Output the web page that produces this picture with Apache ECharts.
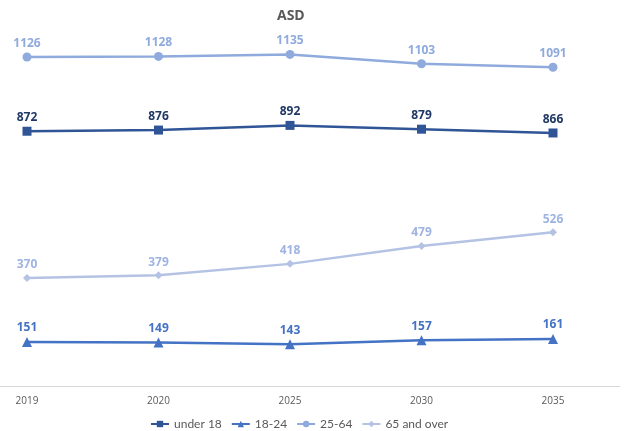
<!DOCTYPE html>
<html><head><meta charset="utf-8">
<script src="https://cdn.jsdelivr.net/npm/echarts@6/dist/echarts.min.js"></script>
<style>html,body{margin:0;padding:0;background:#fff}#c{width:624px;height:431px}</style>
</head><body><div id="c"></div>
<script>
const categories = ['2019','2020','2025','2030','2035'];
const under18 = [872, 876, 892, 879, 866];
const age18to24 = [151, 149, 143, 157, 161];
const age25to64 = [1126, 1128, 1135, 1103, 1091];
const age65plus = [370, 379, 418, 479, 526];
const seriesNames = ['under 18','18-24','25-64','65 and over'];

const chart = echarts.init(document.getElementById('c'), null, {renderer:'canvas'});
function mk(name, data, color, labelColor, symbol, size){
  return {
    name, type:'line', data, symbol, symbolSize:size, xAxisIndex:0, yAxisIndex:0,
    lineStyle:{color, width:2.5}, itemStyle:{color},
    label:{show:true, position:'top', distance:3, color:labelColor, fontSize:12, fontWeight:'bold', fontFamily:'Open Sans'},
    emphasis:{disabled:true}
  };
}
chart.setOption({
  animation:false,
  title:{text:'ASD', left:272, top:4, textStyle:{color:'#595959', fontSize:14, fontWeight:'bold', fontFamily:'Open Sans'}},
  legend:{top:413, left:145, itemGap:9, itemWidth:18, itemHeight:8,
    textStyle:{color:'#595959', fontSize:12, fontFamily:'Lato'},
    data:seriesNames},
  grid:[
    {left:27, right:71, top:35.4, bottom:45},
    {left:0, right:4, top:35.4, bottom:45}
  ],
  xAxis:[
    {type:'category', gridIndex:0, data:categories, boundaryGap:false,
     axisLine:{show:false}, axisTick:{show:false},
     axisLabel:{color:'#595959', fontSize:10, margin:10, fontFamily:'Open Sans'}},
    {type:'value', gridIndex:1, min:0, max:1, axisLine:{show:true, onZero:false, lineStyle:{color:'#d9d9d9', width:1}},
     axisTick:{show:false}, axisLabel:{show:false}, splitLine:{show:false}}
  ],
  yAxis:[
    {type:'value', gridIndex:0, min:0, max:1200, show:false, splitLine:{show:false}},
    {type:'value', gridIndex:1, min:0, max:1, show:false, splitLine:{show:false}}
  ],
  series:[
    mk(seriesNames[0], under18, '#2F5597', '#203864', 'rect', 9),
    mk(seriesNames[1], age18to24, '#4472C4', '#4472C4', 'triangle', 10),
    mk(seriesNames[2], age25to64, '#8FAADC', '#8FAADC', 'circle', 9),
    mk(seriesNames[3], age65plus, '#B4C2E4', '#9FB4E2', 'diamond', 8)
  ]
});
</script></body></html>
